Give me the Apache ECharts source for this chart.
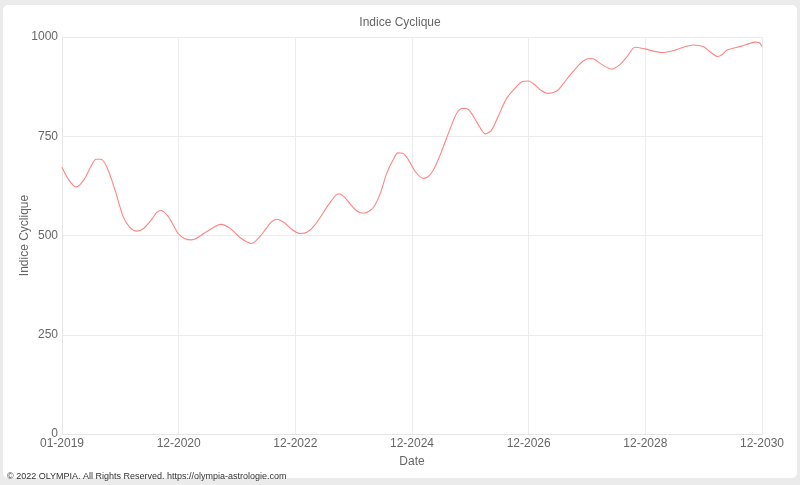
<!DOCTYPE html>
<html>
<head>
<meta charset="utf-8">
<script src="https://cdn.jsdelivr.net/npm/echarts@6/dist/echarts.min.js"></script>
<style>
html,body{margin:0;padding:0;background:#ebebeb;width:800px;height:485px;overflow:hidden;}
#card{position:absolute;left:3px;top:5px;width:794px;height:473px;background:#fff;border-radius:5px;}
#chart{position:absolute;left:0;top:0;width:800px;height:485px;}
</style>
</head>
<body>
<div id="card"></div>
<div id="chart"></div>
<script>
// x position in period units (0 = 01-2019, 144 = 12-2030), 24 units per tick
const positions = [0,1.4,2.9,4.5,6.0,7.0,8.0,9.2,10.9,12.6,14.0,15.4,16.7,18.1,19.5,20.4,21.9,23.9,25.3,26.7,29.8,32.7,34.6,36.6,39.0,40.3,41.8,43.0,44.2,45.9,47.3,49.0,50.4,52.0,54.8,56.2,57.0,58.0,59.2,60.5,62.0,63.4,64.4,65.6,66.8,68.1,69.1,70.1,71.3,72.6,74.3,75.3,76.4,77.7,79.1,80.2,81.2,82.3,83.1,84.0,85.6,87.1,88.4,89.9,91.5,93.5,94.6,95.9,97.3,98.5,100.0,101.8,103.1,104.5,106.0,107.3,108.5,109.3,111.0,113.1,114.8,116.2,117.9,119.9,123.4,126.1,128.2,129.9,131.9,133.3,134.9,135.8,136.8,139.8,141.5,142.6,143.4,144];
const values = [672,640,622,640,675,692,692,673,615,547,520,511,517,535,558,563,547,505,492,489,510,528,518,495,480,492,514,533,541,531,515,505,508,526,577,600,605,598,581,563,556,563,577,610,657,690,708,707,690,662,644,648,665,700,745,780,808,820,820,812,780,756,766,805,846,875,887,889,879,866,858,864,882,904,925,940,946,945,931,919,931,950,974,970,961,967,976,980,976,963,951,956,967,977,984,987,986,976];
const xTickLabels = ['01-2019','12-2020','12-2022','12-2024','12-2026','12-2028','12-2030'];
const yTicks = [0,250,500,750,1000];
const titleText = 'Indice Cyclique';
const yAxisTitle = 'Indice Cyclique';
const xAxisTitle = 'Date';
const footerText = '© 2022 OLYMPIA. All Rights Reserved. https://olympia-astrologie.com';

const FONT = '"Liberation Sans", Arial, sans-serif';
const chart = echarts.init(document.getElementById('chart'), null, {renderer:'canvas'});
const data = positions.map((p,i)=>[p, values[i]]);
chart.setOption({
  animation:false,
  backgroundColor:'transparent',
  title:{text:titleText,left:'center',top:12,textStyle:{fontFamily:FONT,fontSize:12,fontWeight:'normal',color:'#666'}},
  grid:{left:62,right:38,top:37,bottom:51,containLabel:false},
  xAxis:{type:'value',min:0,max:144,interval:24,
    name:xAxisTitle,nameLocation:'middle',nameGap:22,nameMoveOverlap:false,
    nameTextStyle:{fontFamily:FONT,fontSize:12,color:'#666'},
    axisLine:{show:true,lineStyle:{color:'#e6e6e6'}},axisTick:{show:false},
    axisLabel:{fontFamily:FONT,fontSize:12,color:'#666',margin:4,
      formatter:v=>xTickLabels[Math.round(v/24)]||''},
    splitLine:{show:true,lineStyle:{color:'#ececec'}}},
  yAxis:{type:'value',min:yTicks[0],max:yTicks[yTicks.length-1],interval:250,
    name:yAxisTitle,nameLocation:'middle',nameGap:31,nameMoveOverlap:false,
    nameTextStyle:{fontFamily:FONT,fontSize:12,color:'#666'},
    axisLine:{show:true,lineStyle:{color:'#e6e6e6'}},axisTick:{show:false},
    axisLabel:{fontFamily:FONT,fontSize:12,color:'#666',margin:4,formatter:v=>String(v)},
    splitLine:{show:true,lineStyle:{color:'#ececec'}}},
  graphic:[{type:'text',left:7,top:472,style:{text:footerText,font:'9px '+FONT,fill:'#333'}}],
  series:[{type:'line',data:data,smooth:0.3,showSymbol:false,symbol:'none',
    lineStyle:{color:'#ff8585',width:1.1}}]
});
</script>
</body>
</html>
